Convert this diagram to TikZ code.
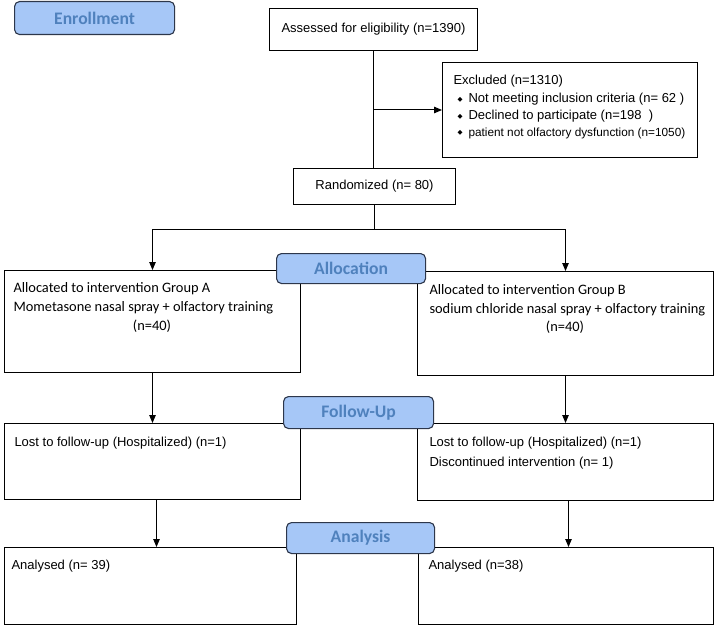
\documentclass[tikz,border=0pt]{standalone}
\usepackage{fontspec}
\setmainfont{Liberation Sans}
\newfontfamily\calibri{Carlito}
\newfontfamily\dejavu{DejaVu Sans}
\usetikzlibrary{arrows.meta}

\definecolor{stagefill}{RGB}{166,199,247}
\definecolor{stagetext}{RGB}{79,129,189}
\definecolor{stageline}{RGB}{45,55,75}

\newcommand{\bul}{\raisebox{1.5bp}{\dejavu\fontsize{6.5bp}{6.5bp}\selectfont ◆}\hspace{6bp}}

\begin{document}
\begin{tikzpicture}[x=1bp, y=-1bp, line width=1bp,
    box/.style={draw, inner sep=0pt, anchor=north west},
    stage/.style={draw=stageline, fill=stagefill, rounded corners=5bp, line width=1.1bp,
        inner sep=0pt, anchor=north west, text=stagetext,
        font=\calibri\bfseries\fontsize{17.6bp}{20bp}\selectfont},
    txt/.style={anchor=base west, inner sep=0pt, font=\fontsize{13bp}{16bp}\selectfont},
    caltxt/.style={anchor=base west, inner sep=0pt, font=\calibri\fontsize{14.4bp}{17bp}\selectfont},
    arr/.style={-{Triangle[length=8bp,width=6.5bp]}}]
    \useasboundingbox (0,0) rectangle (714,625);

    % enrollment
    \node[box, minimum width=208bp, minimum height=42bp, font=\fontsize{13bp}{16bp}\selectfont] (assess) at (269,8) {Assessed for eligibility (n=1390)};
    \node[box, minimum width=255bp, minimum height=95bp] (excl) at (442,62) {};
    \node[txt] (ex0) at (453,84.7) {Excluded (n=1310)};
    \node[txt] (ex1) at (457,102.7) {\bul Not meeting inclusion criteria (n= 62 )};
    \node[txt] (ex2) at (457,119.7) {\bul Declined to participate (n=198\ \ )};
    \node[txt, font=\fontsize{11.8bp}{14bp}\selectfont] (ex3) at (457,136.3) {\bul patient not olfactory dysfunction (n=1050)};
    \node[box, minimum width=162bp, minimum height=36bp, font=\fontsize{13bp}{16bp}\selectfont] (rand) at (293,168) {Randomized (n= 80)};
    \coordinate (split) at (374,229);

    % allocation
    \node[box, minimum width=296bp, minimum height=102bp] (alA) at (4,270) {};
    \node[caltxt] (alA1) at (13,292.5) {Allocated to intervention Group A};
    \node[caltxt] (alA2) at (13,311.5) {Mometasone nasal spray + olfactory training};
    \node[caltxt, anchor=base] (alA3) at (152,330.5) {(n=40)};
    \node[box, minimum width=296bp, minimum height=104bp] (alB) at (417,271) {};
    \node[caltxt] (alB1) at (429,294.5) {Allocated to intervention Group B};
    \node[caltxt] (alB2) at (429,313.5) {sodium chloride nasal spray + olfactory training};
    \node[caltxt, anchor=base] (alB3) at (565,331.5) {(n=40)};

    % follow-up
    \node[box, minimum width=296bp, minimum height=76bp] (fuA) at (4,423) {};
    \node[txt] (fuA1) at (14,446.5) {Lost to follow-up (Hospitalized) (n=1)};
    \node[box, minimum width=296bp, minimum height=77bp] (fuB) at (417,423) {};
    \node[txt] (fuB1) at (429,446.5) {Lost to follow-up (Hospitalized) (n=1)};
    \node[txt] (fuB2) at (429,466.5) {Discontinued intervention (n= 1)};

    % analysis
    \node[box, minimum width=292bp, minimum height=77bp] (anA) at (4,547) {};
    \node[txt] (anA1) at (11,569.5) {Analysed (n= 39)};
    \node[box, minimum width=295bp, minimum height=77bp] (anB) at (418,547) {};
    \node[txt] (anB1) at (428,569.5) {Analysed (n=38)};

    % stage labels
    \node[stage, minimum width=160bp, minimum height=33bp] (enrol) at (14,1) {Enrollment};
    \node[stage, minimum width=149bp, minimum height=30bp] (alloc) at (276,253) {Allocation};
    \node[stage, minimum width=150bp, minimum height=32bp] (follow) at (283,396) {Follow-Up};
    \node[stage, minimum width=148bp, minimum height=31bp] (analys) at (286,522) {Analysis};

    % connectors
    \draw (assess.south) -- (assess.south |- rand.north);
    \draw[arr] (assess.south |- excl.west) -- (excl.west);
    \draw (rand.south -| split) -- (split);
    \draw[arr] (split) -| (alA.north);
    \draw[arr] (split) -| (alB.north);
    \draw[arr] (alA.south) -- (fuA.north);
    \draw[arr] (alB.south) -- (fuB.north);
    \draw[arr] ([xshift=4bp]fuA.south) -- ([xshift=4bp]fuA.south |- anA.north);
    \draw[arr] ([xshift=3bp]fuB.south) -- ([xshift=3bp]fuB.south |- anB.north);
\end{tikzpicture}
\end{document}
